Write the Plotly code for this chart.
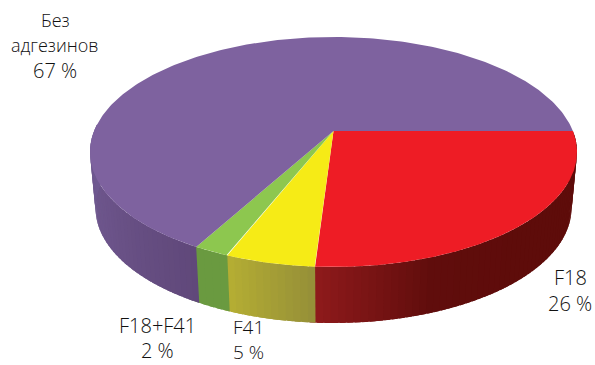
import numpy as np
import plotly.graph_objects as go

# Shares of E. coli isolates by adhesin type, clockwise from the 3 o'clock edge
shares = [26, 5, 2, 67]
top_colors = ["#EE1C25", "#F6EB16", "#8DC74F", "#7E629F"]
# Side wall colours sampled along each sector
wall_ramps = [
    [(94, 12, 10), (94, 12, 10), (94, 12, 10), (96, 13, 12), (142, 26, 28)],
    [(149, 143, 56), (181, 174, 51)],
    [(106, 154, 64), (106, 154, 64)],
    [(96, 72, 122), (108, 84, 138), (112, 90, 146)],
]
labels = [
    ("Без", 55, 20), ("адгезинов", 55, 45), ("67 %", 55, 70),
    ("F18+F41", 157, 325), ("2 %", 157, 350),
    ("F41<br>5 %", 248, 339),
    ("F18", 570, 277), ("26 %", 570, 303),
]

# Perspective projection of the pie disc onto the page
TILT = -0.183
TOP_DISC = dict(cx=333.5, cy=152, rx=243.5, ry=115)
BOTTOM_DISC = dict(cx=333.5, cy=208, rx=238, ry=115)


def project(theta, disc):
    u, v = np.cos(theta), np.sin(theta)
    den = 1 + TILT * v
    x = disc["cx"] + disc["rx"] * u * np.sqrt(1 - TILT ** 2) / den
    y = disc["cy"] + disc["ry"] * (v + TILT) / den
    return x, y


def ramp_color(ramp, t):
    pos = t * (len(ramp) - 1)
    i = min(int(pos), len(ramp) - 2)
    f = pos - i
    c = [ramp[i][k] + (ramp[i + 1][k] - ramp[i][k]) * f for k in range(3)]
    return "rgb(%d,%d,%d)" % tuple(round(a) for a in c)


def polygon(x, y, color):
    return go.Scatter(
        x=x, y=y, mode="lines", fill="toself", fillcolor=color,
        line=dict(width=0), hoverinfo="skip", showlegend=False,
    )


edges = np.radians(np.concatenate([[0], np.cumsum(shares)]) * 3.6)
fig = go.Figure()

# Visible side wall: narrow strips, each lapping under the next so no seams show
for i in range(len(shares)):
    start, end = edges[i], min(edges[i + 1], np.pi * 1.02)
    if end <= start:
        continue
    steps = max(2, int(np.degrees(end - start) / 1.5))
    grid = np.linspace(start, end, steps + 1)
    for j in range(steps):
        lap = grid[j + 1] + np.radians(1.2) if (i < 3 or j < steps - 1) else grid[j + 1]
        a = np.linspace(grid[j], lap, 4)
        xt, yt = project(a, TOP_DISC)
        xb, yb = project(a[::-1], BOTTOM_DISC)
        fig.add_trace(polygon(
            np.r_[xt, xb, xt[0]], np.r_[yt, yb, yt[0]],
            ramp_color(wall_ramps[i], (j + 0.5) / steps),
        ))

# Top face of each sector
for i in range(len(shares)):
    a = np.linspace(edges[i], edges[i + 1], 240)
    x, y = project(a, TOP_DISC)
    cx, cy = TOP_DISC["cx"], TOP_DISC["cy"] + TOP_DISC["ry"] * TILT
    fig.add_trace(polygon(np.r_[cx, x, cx], np.r_[cy, y, cy], top_colors[i]))

# Cyrillic words run narrower than the Latin and numeric labels in this face
for text, x, y in labels:
    size = 18 if text[0] in "Ба" else 19 if "<br>" in text else 20
    fig.add_annotation(
        x=x, y=y, text=text, showarrow=False, xanchor="center", yanchor="middle",
        font=dict(family="Open Sans", size=size, color="#111111", weight=300),
    )

fig.update_xaxes(range=[0, 595], visible=False, fixedrange=True)
fig.update_yaxes(range=[365, 0], visible=False, fixedrange=True)
fig.update_layout(
    width=595, height=365, margin=dict(l=0, r=0, t=0, b=0),
    paper_bgcolor="white", plot_bgcolor="white", showlegend=False,
)
fig.write_html("out.html", config={"displayModeBar": False})
